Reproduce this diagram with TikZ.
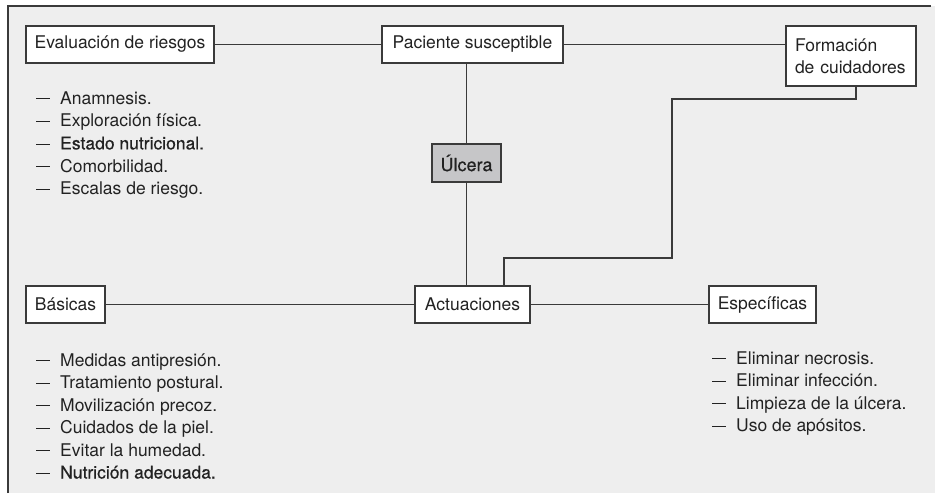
\documentclass[tikz,border=0pt]{standalone}
\usepackage{fontspec}
\setmainfont{TeX Gyre Heros}
\newfontfamily\semib[FakeBold=0.5]{TeX Gyre Heros}
\definecolor{bg}{HTML}{EEEEEE}
\definecolor{ln}{HTML}{3A3A3A}
\definecolor{tx}{HTML}{222222}
\definecolor{ulcfill}{HTML}{C6C6C8}
\newcommand{\itemdash}{\makebox[24pt][l]{\rule[5pt]{14pt}{0.9pt}}}
\begin{document}
\begin{tikzpicture}[x=1pt,y=-1pt,
  every node/.style={font=\fontsize{17.5}{22}\selectfont, text=tx},
  box/.style={draw=ln, line width=1.4pt, fill=white, minimum height=37pt, inner xsep=0pt, inner ysep=0pt},
  conn/.style={draw=ln, line width=1.4pt},
  listitem/.style={anchor=base west, inner sep=0pt}
]
\useasboundingbox (0,0) rectangle (935,493);
\fill[bg] (8,6) rectangle (935,493);
\draw[ln, line width=2pt] (8,493) -- (8,6) -- (931,6);

\node[box, minimum width=188pt] (eval) at (120,44.5) {Evaluación de riesgos};
\node[box, minimum width=181pt] (pac) at (472.5,44.5) {Paciente susceptible};
\node[box, minimum width=130pt, minimum height=60pt, align=left, text width=112pt] (form) at (851,56) {Formación\\de cuidadores};
\node[box, fill=ulcfill, minimum width=69pt, minimum height=38pt, font=\fontsize{18}{22}\selectfont\semib] (ulc) at (466.5,163) {Úlcera};
\node[box, minimum width=79pt] (bas) at (65.5,304.5) {Básicas};
\node[box, minimum width=115pt] (act) at (472.5,304.5) {Actuaciones};
\node[box, minimum width=107pt] (esp) at (762.5,304.5) {Específicas};

\coordinate (k0) at (856,99);
\coordinate (k1) at (672,99);
\coordinate (k2) at (504,258);

\draw[conn] (eval) -- (pac);
\draw[conn] (pac) -- (form.west |- pac);
\draw[conn] (pac.south -| ulc) -- (ulc.north);
\draw[conn] (ulc.south) -- (act.north -| ulc);
\draw[conn] (bas) -- (act);
\draw[conn] (act) -- (esp);
\draw[conn] (form.south -| k0) -- (k0) -- (k1) -- (k1 |- k2) -- (k2) -- (act.north -| k2);

\foreach \t [count=\i] in {Anamnesis., Exploración física., \semib Estado nutricional., Comorbilidad., Escalas de riesgo.}
  \node[listitem] (ev\i) at (36,{104+22.7*(\i-1)}) {\itemdash\t};
\foreach \t [count=\i] in {Medidas antipresión., Tratamiento postural., Movilización precoz., Cuidados de la piel., Evitar la humedad., \semib Nutrición adecuada.}
  \node[listitem] (bs\i) at (36,{366+22.5*(\i-1)}) {\itemdash\t};
\foreach \t [count=\i] in {Eliminar necrosis., Eliminar infección., Limpieza de la úlcera., Uso de apósitos.}
  \node[listitem] (es\i) at (712,{364+22.5*(\i-1)}) {\itemdash\t};
\end{tikzpicture}
\end{document}
